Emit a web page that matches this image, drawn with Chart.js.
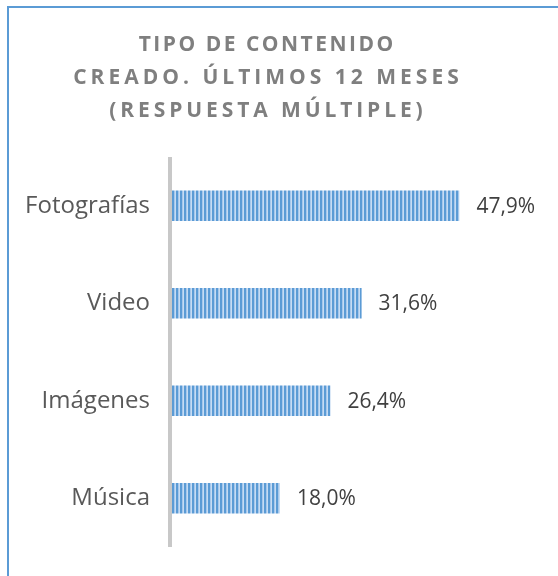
<!DOCTYPE html>
<html>
<head>
<meta charset="utf-8">
<script src="https://cdn.jsdelivr.net/npm/chart.js@4"></script>
<style>
  html, body { margin: 0; padding: 0; background: #fff; }
  body { width: 558px; height: 576px; position: relative; overflow: hidden; }
  #frame { position: absolute; left: 7px; top: 6px; width: 700px; height: 700px;
           border-left: 2px solid #5b9bd5; border-top: 2px solid #5b9bd5; box-sizing: border-box; }
  #title { position: absolute; left: 0; top: 27px; width: 532px; text-align: center;
           font-family: "Open Sans", sans-serif; font-weight: bold; font-size: 21px;
           line-height: 33px; color: #7f7f7f; }
  #title div { white-space: nowrap; }
  #title .l1 { letter-spacing: 2.5px; padding-left: 2.5px; }
  #title .l2 { letter-spacing: 4px; padding-left: 4px; }
  #title .l3 { letter-spacing: 3.9px; padding-left: 3.9px; }
  #c { position: absolute; left: 0; top: 0; }
</style>
</head>
<body>
<div id="frame"></div>
<canvas id="c" width="558" height="576"></canvas>
<div id="title"><div class="l1">TIPO DE CONTENIDO</div><div class="l2">CREADO. ÚLTIMOS 12 MESES</div><div class="l3">(RESPUESTA MÚLTIPLE)</div></div>
<script>
const categories = ["Fotografías", "Video", "Imágenes", "Música"];
const values = [47.9, 31.6, 26.4, 18.0];
const valueLabels = ["47,9%", "31,6%", "26,4%", "18,0%"];

function stripePattern() {
  const p = document.createElement('canvas');
  p.width = 4; p.height = 1;
  const g = p.getContext('2d');
  const cols = ['#5b9bd5', '#5b9bd5', '#a7c8ec', '#c6dcf3'];
  cols.forEach((c, i) => { g.fillStyle = c; g.fillRect(i, 0, 1, 1); });
  return g.createPattern(p, 'repeat');
}

const ctx = document.getElementById('c').getContext('2d');

const axisLine = {
  id: 'axisLine',
  afterDatasetsDraw(chart) {
    const a = chart.chartArea, c = chart.ctx;
    c.save();
    c.fillStyle = '#c8c8c8';
    c.fillRect(a.left - 4, a.top, 4, a.bottom - a.top);
    c.restore();
  }
};

const valueLabelPlugin = {
  id: 'valueLabels',
  afterDatasetsDraw(chart) {
    const c = chart.ctx;
    const meta = chart.getDatasetMeta(0);
    c.save();
    c.font = '21px "Open Sans", sans-serif';
    c.fillStyle = '#404040';
    c.textAlign = 'left';
    c.textBaseline = 'middle';
    meta.data.forEach((bar, i) => {
      c.fillText(valueLabels[i], bar.x + 17, bar.y + 1);
    });
    c.restore();
  }
};

new Chart(ctx, {
  type: 'bar',
  data: {
    labels: categories,
    datasets: [{
      data: values,
      backgroundColor: stripePattern(),
      borderWidth: 0,
      categoryPercentage: 1,
      barPercentage: 0.315
    }]
  },
  options: {
    indexAxis: 'y',
    responsive: false,
    animation: false,
    events: [],
    layout: { padding: { top: 157, bottom: 29, left: 0, right: 26 } },
    plugins: { legend: { display: false }, title: { display: false }, tooltip: { enabled: false } },
    scales: {
      x: { display: false, min: 0, max: 60 },
      y: {
        grid: { display: false },
        border: { display: false },
        afterFit(scale) { scale.width = 172; },
        ticks: {
          padding: 14,
          color: '#595959',
          font: { family: '"Open Sans", sans-serif', size: 24 }
        }
      }
    }
  },
  plugins: [axisLine, valueLabelPlugin]
});
</script>
</body>
</html>
